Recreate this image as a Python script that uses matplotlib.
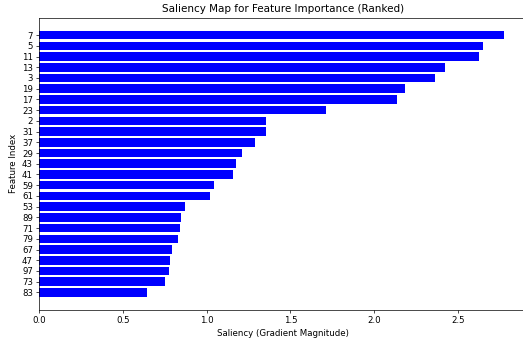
import matplotlib

matplotlib.use("Agg")
import matplotlib.pyplot as plt

# feature ids ranked by saliency, highest first
feature_ids = [7, 5, 11, 13, 3, 19, 17, 23, 2, 31, 37, 29, 43, 41, 59, 61,
               53, 89, 71, 79, 67, 47, 97, 73, 83]
saliency = [2.772, 2.647, 2.625, 2.424, 2.360, 2.183, 2.137, 1.713, 1.355,
            1.353, 1.291, 1.210, 1.172, 1.158, 1.041, 1.017, 0.868, 0.844,
            0.842, 0.832, 0.792, 0.782, 0.776, 0.752, 0.647]

# everything is the matplotlib default shrunk to fit a small canvas
scale = 0.623
plt.rcParams.update({"font.family": "DejaVu Sans", "font.size": 10 * scale})

fig = plt.figure(figsize=(5.23, 3.38), dpi=100)
ax = fig.add_axes([39 / 523, 28 / 338, 488 / 523, 292.5 / 338])

positions = list(range(len(feature_ids)))[::-1]
ax.barh(positions, saliency, color="blue")
ax.set_yticks(positions)
ax.set_yticklabels([str(f) for f in feature_ids])
ax.set_xlim(0, max(saliency) * 1.05)

ax.tick_params(labelsize=10 * scale, length=3.5 * scale, width=0.8 * scale,
               pad=3.5 * scale)
for spine in ax.spines.values():
    spine.set_linewidth(0.8 * scale)

ax.set_title("Saliency Map for Feature Importance (Ranked)", fontsize=12 * scale,
             pad=6 * scale)
ax.set_xlabel("Saliency (Gradient Magnitude)", fontsize=10 * scale,
              labelpad=4 * scale)
ax.set_ylabel("Feature Index", fontsize=10 * scale, labelpad=4 * scale)

fig.savefig("out.png", dpi=100)
